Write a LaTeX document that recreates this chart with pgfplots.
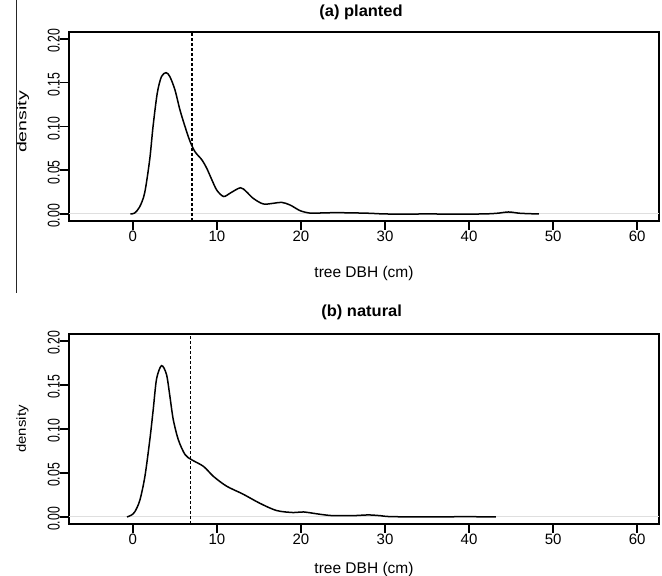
\documentclass[border=0pt]{standalone}
\usepackage{fontspec}
\setmainfont{Liberation Sans}
\newfontfamily\fyt{Liberation Sans}[FakeStretch=0.72]
\newfontfamily\fyla{Liberation Sans}[FakeStretch=1.5]
\newfontfamily\fylb{Liberation Sans}[FakeStretch=1.15]
\newfontfamily\fxl{Liberation Sans}[FakeStretch=1.03]
\usepackage{pgfplots}
\usepackage{pgfplotstable}
\pgfplotsset{compat=1.18}

\pgfplotstableread{
x y
-0.3 0
0.2 0.001
0.8 0.008
1.4 0.024
2.0 0.062
2.4 0.100
2.9 0.138
3.4 0.157
3.95 0.1615
4.4 0.157
5.0 0.142
5.6 0.119
6.2 0.100
6.8 0.083
7.4 0.071
8.2 0.062
8.8 0.052
9.4 0.039
10.0 0.027
10.8 0.020
11.6 0.024
12.8 0.030
13.5 0.0255
14.3 0.018
15.5 0.0115
16.7 0.0122
17.7 0.0133
18.7 0.0103
19.9 0.0038
21.1 0.0010
22.5 0.0012
24 0.0015
26 0.0013
28.2 0.0008
30.2 0.0
35 0
41.3 0
43.3 0.0008
44.7 0.0023
46.1 0.0008
48.3 0
}\planted

\pgfplotstableread{
x y
-0.7 0
-0.2 0.002
0.24 0.006
0.83 0.019
1.43 0.046
2.02 0.088
2.42 0.122
2.82 0.157
3.41 0.172
4.0 0.162
4.4 0.1375
4.8 0.111
5.4 0.088
6.2 0.071
7.0 0.065
8.4 0.0575
9.6 0.046
11.15 0.035
13.1 0.026
15.1 0.0156
17.1 0.0073
19.1 0.005
20.3 0.0057
22.3 0.0030
23.8 0.0015
26.2 0.0015
28.0 0.0023
29.4 0.0015
30.6 0.0004
34.6 0
37.7 0
38.8 0.0004
43.2 0
}\natural

\pgfplotsset{
  dens/.style={
    scale only axis, width=590bp,
    xmin=-7.6, xmax=62.6, ymin=-0.008, ymax=0.208,
    axis line style={line width=1.5bp},
    tick align=outside, major tick length=9bp,
    every tick/.style={black, line width=1.5bp},
    xtick={0,10,20,30,40,50,60},
    xticklabels={0,10,20,30,40,50,60},
    ytick={0,0.05,0.1,0.15,0.2},
    yticklabels={0.00,0.05,0.10,0.15,0.20},
    xtick pos=bottom, ytick pos=left,
    xticklabel style={font=\fontsize{15bp}{15bp}\selectfont, inner sep=0pt, anchor=north, yshift=-1bp},
    yticklabel style={font=\fyt\fontsize{17bp}{17bp}\selectfont, rotate=90, anchor=south, inner sep=0pt, xshift=-2bp},
    title style={font=\fxl\bfseries\fontsize{16bp}{16bp}\selectfont, inner sep=0pt, anchor=base},
    xlabel style={font=\fontsize{15.5bp}{15.5bp}\selectfont, inner sep=0pt, anchor=base},
    ylabel style={inner sep=0pt, anchor=center},
  }
}

\begin{document}
\begin{tikzpicture}[x=1bp,y=1bp]
\useasboundingbox (0,0) rectangle (662,576);
\draw[line width=0.8bp, black!85] (16,576) -- (16,283);

\begin{axis}[dens, at={(69bp,355bp)}, anchor=south west, height=189bp,
  title={(a) planted}, title style={at={(0.495,1.050)}},
  xlabel={tree DBH (cm)}, xlabel style={at={(0.5,-0.3016)}},
  ylabel={density}, ylabel style={at={(-0.078,0.524)}, font=\fyla\fontsize{13bp}{13bp}\selectfont}]
\addplot[gray!25, line width=1bp] coordinates {(-7.6,0) (62.6,0)};
\addplot[black, line width=1.5bp, smooth, tension=0.5] table {\planted};
\addplot[black, line width=1.8bp, dash pattern=on 3bp off 2bp] coordinates {(7,-0.008) (7,0.208)};
\end{axis}

\begin{axis}[dens, at={(69bp,52bp)}, anchor=south west, height=190bp,
  title={(b) natural}, title style={at={(0.496,1.058)}},
  xlabel={tree DBH (cm)}, xlabel style={at={(0.5,-0.258)}},
  ylabel={density}, ylabel style={at={(-0.079,0.5)}, font=\fylb\fontsize{13bp}{13bp}\selectfont}]
\addplot[gray!25, line width=1bp] coordinates {(-7.6,0) (62.6,0)};
\addplot[black, line width=1.5bp, smooth, tension=0.5] table {\natural};
\addplot[black, line width=1.1bp, dash pattern=on 3bp off 2bp] coordinates {(6.85,-0.008) (6.85,0.208)};
\end{axis}
\end{tikzpicture}
\end{document}
